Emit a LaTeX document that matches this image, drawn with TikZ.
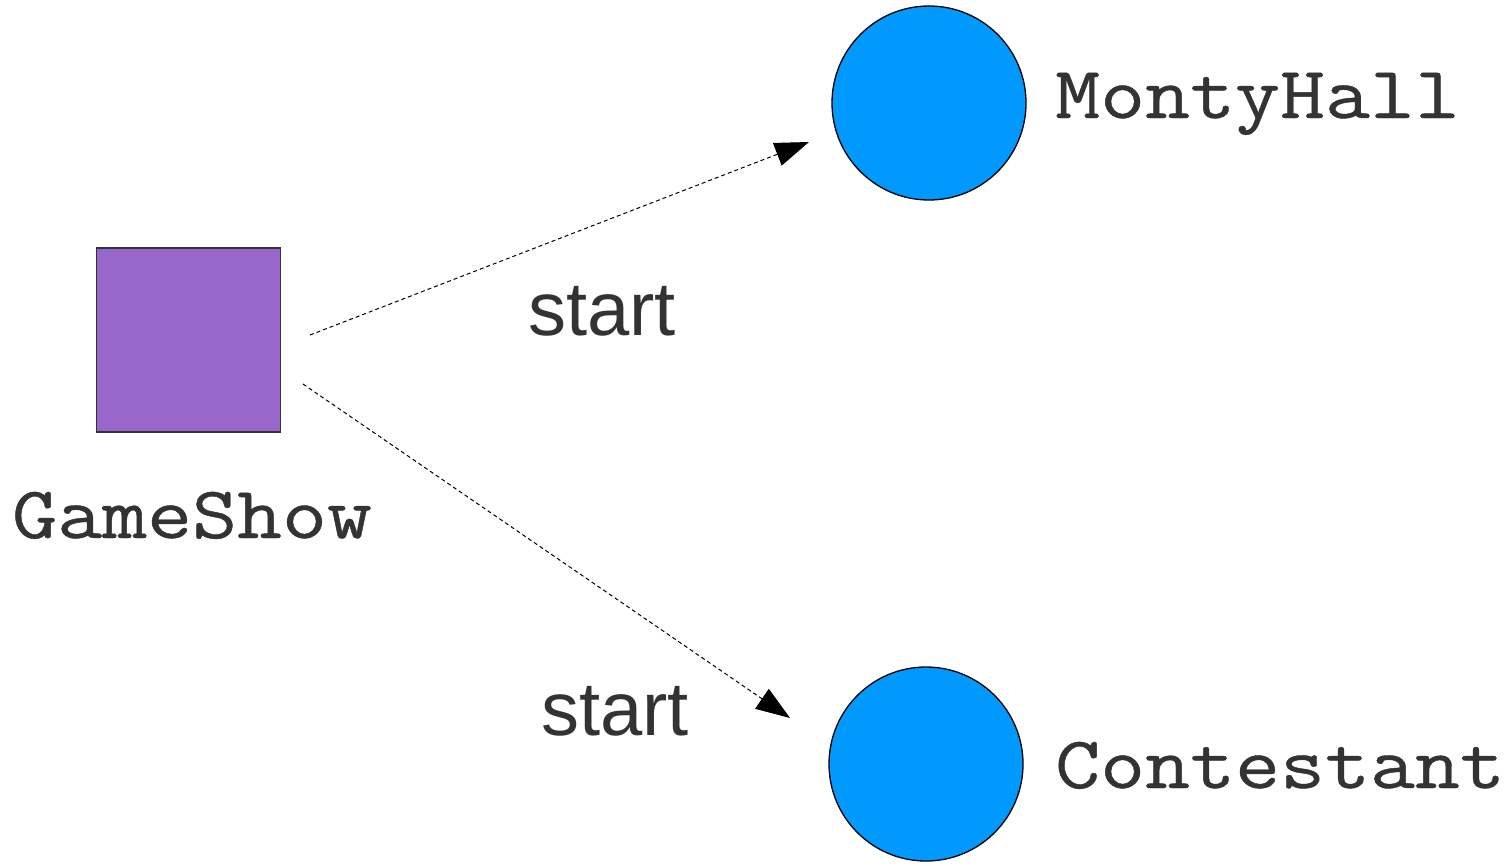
\documentclass[tikz,border=0pt]{standalone}
\usepackage{fontspec}
\setmainfont{Liberation Sans}
\setmonofont{Latin Modern Mono}[FakeStretch=1.18, FakeBold=0.6]
\usetikzlibrary{arrows.meta}
\definecolor{boxpurple}{HTML}{9966CC}
\definecolor{ballblue}{HTML}{0099FF}
\definecolor{inkgray}{HTML}{333333}
\tikzset{
  actorbox/.style={draw=black!80, line width=1.2pt, fill=boxpurple, minimum size=184pt, inner sep=0pt},
  ball/.style={circle, draw=black, line width=1.3pt, fill=ballblue, minimum size=194pt, inner sep=0pt},
  actorlabel/.style={font=\ttfamily\fontsize{74}{74}\selectfont, text=inkgray, anchor=base west, inner sep=0pt},
  msglabel/.style={font=\fontsize{76}{76}\selectfont, text=inkgray, anchor=base west, inner sep=0pt},
  conn/.style={draw=black, line width=1pt, dash pattern=on 4pt off 3pt,
    -{Triangle[length=34pt, width=24pt]}}
}
\begin{document}
\begin{tikzpicture}[x=1pt, y=-1pt]
  \useasboundingbox (0,0) rectangle (1511,865);
  % actors
  \node[actorbox] (show) at (188.5,340) {};
  \node[ball] (monty) at (929,103) {};
  \node[ball] (cont) at (926,764) {};
  % actor names
  \node[actorlabel] (showname) at (12,538) {GameShow};
  \node[actorlabel] (montyname) at (1055,118) {MontyHall};
  \node[actorlabel] (contname) at (1055,788) {Contestant};
  % messages
  \coordinate (from1) at (310,335);
  \coordinate (to1) at (809,142);
  \coordinate (from2) at (303,384);
  \coordinate (to2) at (790,718);
  \draw[conn] (from1) -- (to1);
  \draw[conn] (from2) -- (to2);
  \node[msglabel] (msg1) at (528,335) {start};
  \node[msglabel] (msg2) at (541,735) {start};
\end{tikzpicture}
\end{document}
